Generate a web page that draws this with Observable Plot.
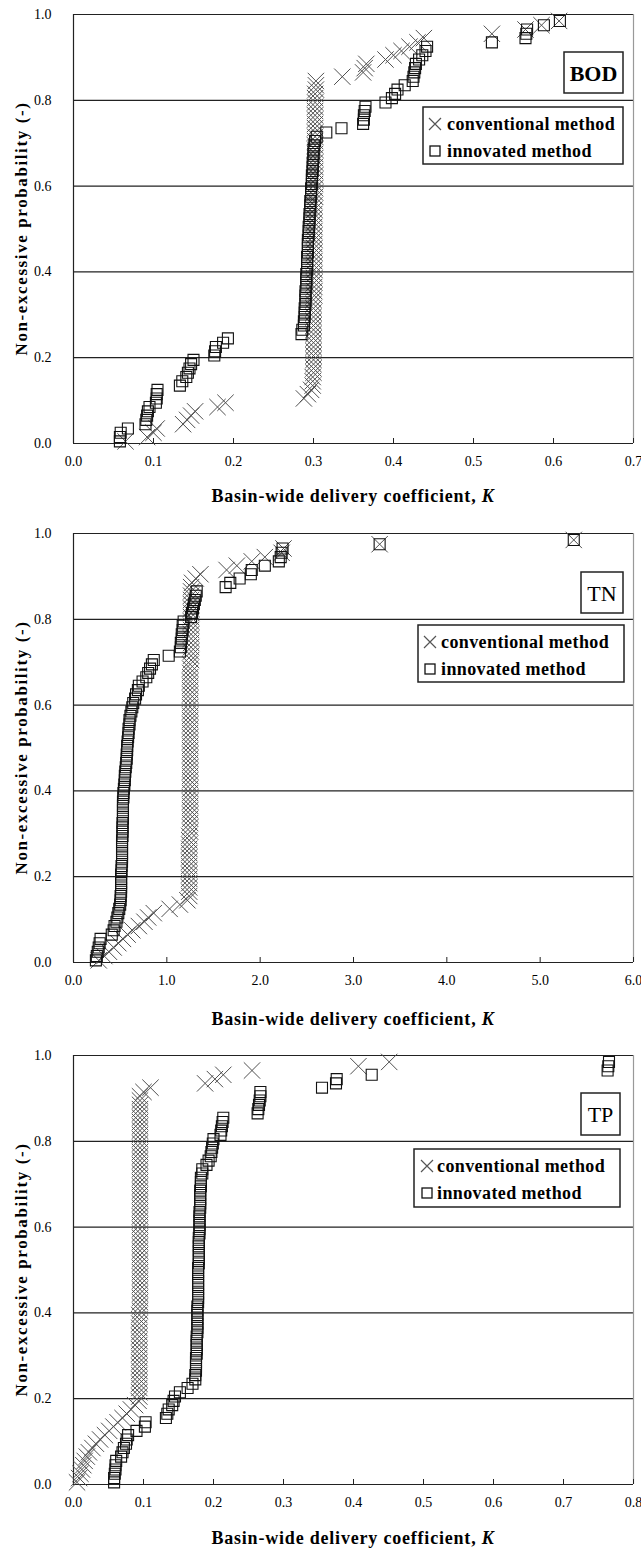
<!DOCTYPE html>
<html><head><meta charset="utf-8">
<script src="https://cdn.jsdelivr.net/npm/d3@7"></script>
<script src="https://cdn.jsdelivr.net/npm/@observablehq/plot@0.6"></script>
<style>
body{margin:0;background:#fff;}
#wrap{position:relative;width:641px;height:1551px;overflow:hidden;background:#fff;}
#wrap svg{position:absolute;left:0;}
</style></head><body><div id="wrap"></div>
<script>
// Non-excessive probability levels (plotting positions, shared by all series)
const prob = [
0.005,0.015,0.025,0.035,0.045,0.055,0.065,0.075,0.085,0.095,
0.105,0.115,0.125,0.135,0.145,0.155,0.165,0.175,0.185,0.195,
0.205,0.215,0.225,0.235,0.245,0.255,0.265,0.275,0.285,0.295,
0.305,0.315,0.325,0.335,0.345,0.355,0.365,0.375,0.385,0.395,
0.405,0.415,0.425,0.435,0.445,0.455,0.465,0.475,0.485,0.495,
0.505,0.515,0.525,0.535,0.545,0.555,0.565,0.575,0.585,0.595,
0.605,0.615,0.625,0.635,0.645,0.655,0.665,0.675,0.685,0.695,
0.705,0.715,0.725,0.735,0.745,0.755,0.765,0.775,0.785,0.795,
0.805,0.815,0.825,0.835,0.845,0.855,0.865,0.875,0.885,0.895,
0.905,0.915,0.925,0.935,0.945,0.955,0.965,0.975,0.985];

// BOD: basin-wide delivery coefficient K
const bodConv = [
.065,.092,.100,.104,.137,.142,.147,.152,.180,.190,
.288,.293,.297,.299,.299,.299,.300,.300,.300,.300,
.300,.300,.300,.300,.300,.300,.300,.300,.300,.300,
.300,.300,.300,.300,.301,.301,.301,.301,.301,.301,
.301,.301,.301,.301,.301,.301,.301,.301,.301,.301,
.301,.301,.301,.301,.301,.301,.301,.302,.302,.302,
.302,.302,.302,.302,.302,.302,.302,.302,.302,.302,
.302,.302,.302,.302,.302,.302,.302,.302,.302,.302,
.302,.302,.303,.303,.303,.336,.362,.364,.366,.390,
.400,.410,.420,.430,.438,.523,.565,.585,.607];
const bodInnov = [
.058,.058,.059,.068,.090,.091,.092,.093,.095,.103,
.104,.104,.105,.133,.136,.141,.143,.145,.147,.150,
.176,.177,.178,.187,.193,.285,.286,.288,.288,.289,
.289,.289,.290,.290,.290,.290,.291,.291,.291,.291,
.292,.292,.292,.292,.293,.293,.293,.293,.294,.294,
.294,.295,.295,.295,.296,.296,.296,.297,.297,.297,
.298,.298,.298,.299,.299,.299,.300,.300,.300,.301,
.302,.304,.316,.335,.362,.363,.363,.364,.365,.390,
.398,.402,.405,.414,.424,.425,.426,.427,.428,.432,
.436,.440,.442,.523,.565,.566,.567,.588,.608];

// TN
const tnConv = [
.27,.33,.38,.43,.48,.53,.58,.63,.70,.76,
.80,.86,1.03,1.14,1.22,1.24,1.24,1.24,1.24,1.24,
1.24,1.24,1.24,1.24,1.24,1.24,1.24,1.24,1.24,1.24,
1.25,1.25,1.25,1.25,1.25,1.25,1.25,1.25,1.25,1.25,
1.25,1.25,1.25,1.25,1.25,1.25,1.25,1.25,1.25,1.25,
1.25,1.25,1.25,1.25,1.25,1.25,1.25,1.25,1.25,1.25,
1.25,1.25,1.25,1.25,1.25,1.25,1.25,1.25,1.25,1.25,
1.26,1.26,1.26,1.26,1.26,1.26,1.26,1.26,1.26,1.26,
1.26,1.26,1.26,1.26,1.26,1.26,1.26,1.26,1.27,1.31,
1.36,1.64,1.75,1.91,2.05,2.23,2.25,3.28,5.36];
const tnInnov = [
.24,.25,.26,.27,.28,.29,.41,.43,.44,.46,
.47,.48,.49,.50,.505,.505,.51,.51,.51,.51,
.51,.515,.515,.52,.52,.52,.52,.52,.52,.525,
.525,.525,.525,.53,.53,.53,.53,.53,.535,.535,
.54,.545,.55,.55,.555,.56,.565,.57,.57,.575,
.575,.58,.585,.59,.59,.60,.60,.61,.62,.63,
.64,.66,.67,.69,.70,.74,.78,.80,.82,.84,
.86,1.02,1.14,1.15,1.15,1.16,1.16,1.17,1.17,1.18,
1.26,1.27,1.28,1.29,1.30,1.31,1.32,1.63,1.68,1.78,
1.90,1.91,2.05,2.20,2.22,2.23,2.24,3.28,5.36];

// TP
const tpConv = [
.005,.008,.010,.012,.014,.016,.019,.022,.027,.032,
.038,.045,.051,.057,.063,.070,.076,.082,.088,.093,
.094,.094,.094,.094,.094,.094,.094,.094,.094,.094,
.094,.094,.094,.094,.094,.094,.094,.094,.094,.094,
.095,.095,.095,.095,.095,.095,.095,.095,.095,.095,
.095,.095,.095,.095,.095,.095,.095,.095,.095,.095,
.095,.095,.095,.095,.095,.095,.095,.095,.095,.095,
.095,.095,.095,.095,.095,.095,.095,.095,.095,.095,
.095,.095,.095,.095,.095,.095,.095,.095,.095,.095,
.095,.100,.110,.188,.202,.214,.255,.407,.451];
const tpInnov = [
.058,.058,.059,.060,.060,.061,.068,.070,.072,.075,
.076,.078,.090,.102,.103,.132,.134,.136,.141,.143,
.145,.152,.163,.170,.174,.174,.175,.175,.175,.175,
.176,.176,.176,.176,.176,.177,.177,.177,.177,.177,
.177,.177,.178,.178,.178,.178,.178,.178,.178,.178,
.178,.179,.179,.179,.179,.179,.179,.179,.180,.180,
.180,.180,.180,.180,.181,.181,.181,.181,.181,.182,
.182,.182,.184,.184,.190,.193,.196,.197,.198,.199,
.200,.210,.211,.212,.213,.214,.263,.264,.265,.266,
.267,.267,.355,.375,.376,.426,.763,.764,.765];

// Axis ticks
const yTicks = [0, 0.2, 0.4, 0.6, 0.8, 1.0];
const xTicksBOD = [0, 0.1, 0.2, 0.3, 0.4, 0.5, 0.6, 0.7];
const xTicksTN = [0, 1, 2, 3, 4, 5, 6];
const xTicksTP = [0, 0.1, 0.2, 0.3, 0.4, 0.5, 0.6, 0.7, 0.8];

const seriesNames = ["conventional method", "innovated method"];
const yTitle = "Non-excessive probability (-)";
const xTitle = "Basin-wide delivery coefficient, ";

const FONT = "'Liberation Serif', 'Times New Roman', serif";
const fmt = d3.format(".1f");

const panels = [
  {conv: bodConv, innov: bodInnov, domain: [0, 0.7], ticks: xTicksBOD, name: "BOD", bold: true,
   top: 0, mb: 76, titleOff: 59, box: {x: 564, y: 52, w: 59, h: 41},
   legend: {x: 423, y: 107, w: 200, h: 57, sx: 435, tx: 447}},
  {conv: tnConv, innov: tnInnov, domain: [0, 6], ticks: xTicksTN, name: "TN", bold: false,
   top: 519, mb: 76, titleOff: 63, box: {x: 581, y: 53, w: 42, h: 41},
   legend: {x: 418, y: 106, w: 206, h: 57, sx: 430, tx: 441}},
  {conv: tpConv, innov: tpInnov, domain: [0, 0.8], ticks: xTicksTP, name: "TP", bold: false,
   top: 1041, mb: 67, titleOff: 60, box: {x: 581, y: 52, w: 39, h: 42},
   legend: {x: 414, y: 108, w: 206, h: 58, sx: 427, tx: 437}}
];

const wrap = document.getElementById("wrap");
const MT = 14, PH = 429, ML = 73, MR = 8, W = 641;

for (const P of panels) {
  const conv = P.conv.map((k, i) => ({k, p: prob[i]}));
  const innov = P.innov.map((k, i) => ({k, p: prob[i]}));
  const H = MT + PH + P.mb;
  const chart = Plot.plot({
    width: W, height: H,
    marginTop: MT, marginBottom: P.mb, marginLeft: ML, marginRight: MR,
    x: {domain: P.domain, label: null},
    y: {domain: [0, 1], label: null},
    style: {fontFamily: FONT, fontSize: "14px", color: "#000", background: "#fff", overflow: "visible"},
    marks: [
      Plot.ruleY(yTicks.filter(d => d > 0), {stroke: "#222", strokeWidth: 1.2}),
      Plot.ruleX([P.domain[1]], {stroke: "#999", strokeWidth: 1.2}),
      Plot.ruleX([P.domain[0]], {stroke: "#222", strokeWidth: 1.2}),
      Plot.ruleX(P.ticks, {stroke: "#222", insetTop: PH - 5}),
      Plot.ruleY([0], {stroke: "#222", strokeWidth: 1.2}),
      Plot.axisX({ticks: P.ticks, tickSize: 0, tickPadding: 13, tickFormat: fmt, label: null}),
      Plot.axisY({ticks: yTicks, tickSize: 0, tickPadding: 22, tickFormat: fmt, label: null}),
      Plot.dot(conv, {x: "k", y: "p", symbol: "times", r: 7.5, stroke: "#505050", strokeWidth: 1}),
      Plot.dot(innov, {x: "k", y: "p", symbol: "square", r: 6.2, fill: "none", stroke: "#111", strokeWidth: 1.1})
    ]
  });
  chart.style.top = P.top + "px";
  wrap.appendChild(chart);
  const svg = d3.select(chart);

  // x title
  const xt = svg.append("text")
    .attr("x", ML + (W - ML - MR) / 2).attr("y", MT + PH + P.titleOff)
    .attr("text-anchor", "middle").attr("font-family", FONT).attr("font-weight", "bold")
    .attr("font-size", 18).attr("letter-spacing", "0.8px").attr("fill", "#000");
  xt.append("tspan").text(xTitle);
  xt.append("tspan").attr("font-style", "italic").text("K");

  // y title
  svg.append("text")
    .attr("transform", `translate(27,${MT + PH / 2}) rotate(-90)`)
    .attr("text-anchor", "middle").attr("font-family", FONT).attr("font-weight", "bold")
    .attr("font-size", 17).attr("letter-spacing", "1.6px").attr("fill", "#000")
    .text(yTitle);

  // label box
  const b = P.box;
  svg.append("rect").attr("x", b.x).attr("y", b.y).attr("width", b.w).attr("height", b.h)
    .attr("fill", "#fff").attr("stroke", "#222").attr("stroke-width", 1.5);
  svg.append("text").attr("x", b.x + b.w / 2).attr("y", b.y + b.h / 2 + 8)
    .attr("text-anchor", "middle").attr("font-family", FONT)
    .attr("font-weight", P.bold ? "bold" : "normal").attr("font-size", 22).attr("fill", "#000")
    .text(P.name);

  // legend
  const L = P.legend;
  svg.append("rect").attr("x", L.x).attr("y", L.y).attr("width", L.w).attr("height", L.h)
    .attr("fill", "#fff").attr("stroke", "#222").attr("stroke-width", 1.5);
  const r1 = L.y + 17, r2 = L.y + 44;
  svg.append("path").attr("d", `M${L.sx - 6},${r1 - 6}L${L.sx + 6},${r1 + 6}M${L.sx - 6},${r1 + 6}L${L.sx + 6},${r1 - 6}`)
    .attr("stroke", "#555").attr("stroke-width", 1.2).attr("fill", "none");
  svg.append("rect").attr("x", L.sx - 5).attr("y", r2 - 5).attr("width", 10).attr("height", 10)
    .attr("stroke", "#111").attr("stroke-width", 1.3).attr("fill", "none");
  [r1, r2].forEach((ry, i) => {
    svg.append("text").attr("x", L.tx).attr("y", ry + 6).attr("text-anchor", "start")
      .attr("font-family", FONT)
      .attr("font-weight", "bold").attr("font-size", 18).attr("letter-spacing", "0.4px").attr("fill", "#000")
      .text(seriesNames[i]);
  });
}
</script></body></html>
